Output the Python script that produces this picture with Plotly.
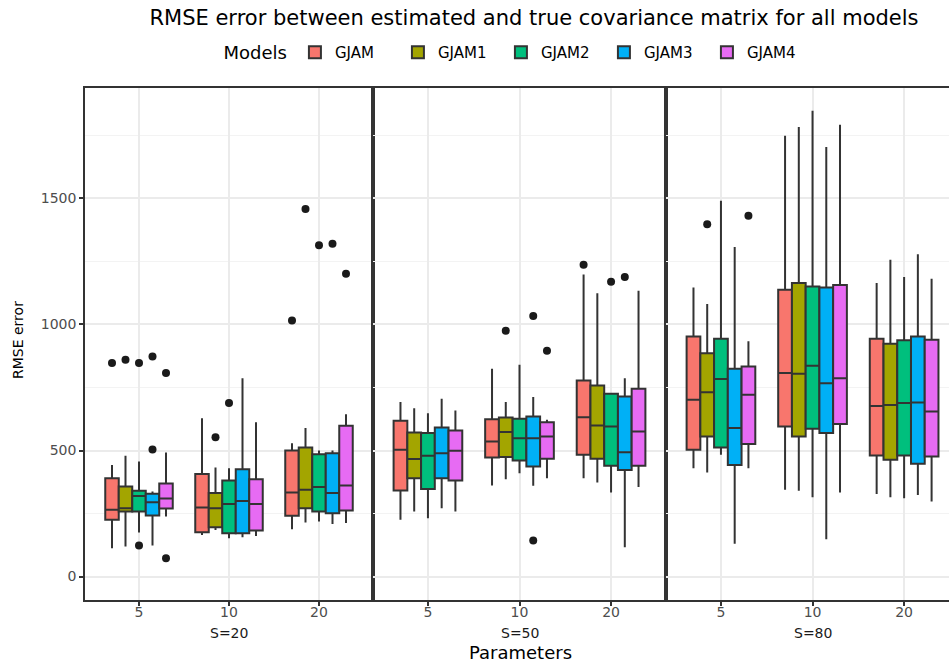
import plotly.graph_objects as go
from plotly.subplots import make_subplots

models = ["GJAM", "GJAM1", "GJAM2", "GJAM3", "GJAM4"]
colors = ["#F8766D", "#A3A500", "#00BF7D", "#00B0F6", "#E76BF3"]
params = ["5", "10", "20"]
panels = ["S=20", "S=50", "S=80"]

# rows = models, columns = params (5, 10, 20)
s20_q1 = [[225, 176, 241], [258, 196, 271], [258, 172, 258], [242, 172, 251], [270, 183, 262]]
s20_med = [[265, 274, 333], [271, 271, 344], [320, 288, 355], [295, 300, 331], [310, 288, 361]]
s20_q3 = [[390, 407, 500], [357, 331, 512], [340, 381, 485], [328, 426, 489], [369, 386, 598]]
s20_lo = [[112, 165, 188], [119, 185, 214], [175, 152, 218], [123, 156, 208], [238, 161, 212]]
s20_hi = [[443, 628, 529], [479, 433, 589], [456, 430, 500], [337, 787, 500], [492, 612, 644]]
s20_out = [[[847], [], [1016]], [[860], [553], [1458]], [[847, 123], [688], [1314]],
           [[873, 504], [], [1320]], [[807, 73], [], [1201]]]

s50_q1 = [[341, 472, 483], [390, 474, 467], [347, 460, 440], [390, 437, 423], [381, 467, 440]]
s50_med = [[503, 536, 632], [466, 573, 599], [479, 549, 595], [489, 549, 493], [499, 556, 575]]
s50_q3 = [[618, 624, 778], [571, 631, 758], [569, 626, 725], [591, 635, 714], [579, 612, 745]]
s50_lo = [[225, 361, 390], [258, 386, 373], [231, 410, 333], [271, 360, 116], [258, 390, 355]]
s50_hi = [[692, 824, 1198], [668, 692, 1124], [648, 840, 725], [705, 712, 787], [659, 622, 1134]]
s50_out = [[[], [], [1237]], [[], [975], []], [[], [], [1169]],
           [[], [1034, 143], [1188]], [[], [896], []]]

s80_q1 = [[503, 595, 480], [556, 556, 463], [512, 586, 480], [443, 569, 447], [526, 605, 476]]
s80_med = [[701, 807, 677], [731, 804, 681], [784, 836, 688], [589, 767, 690], [721, 787, 655]]
s80_q3 = [[952, 1138, 943], [886, 1164, 923], [943, 1151, 937], [824, 1147, 952], [833, 1157, 939]]
s80_lo = [[430, 344, 327], [413, 340, 315], [483, 315, 311], [130, 148, 324], [430, 333, 298]]
s80_hi = [[1147, 1749, 1164], [1081, 1783, 1257], [1491, 1848, 1188], [1307, 1704, 1279], [933, 1792, 1181]]
s80_out = [[[], [], []], [[1398], [], []], [[], [], []], [[], [], []], [[1431], [], []]]

panel_stats = [
    (s20_q1, s20_med, s20_q3, s20_lo, s20_hi, s20_out),
    (s50_q1, s50_med, s50_q3, s50_lo, s50_hi, s50_out),
    (s80_q1, s80_med, s80_q3, s80_lo, s80_hi, s80_out),
]

FONT = "DejaVu Sans"
W, H = 949, 665
ML, MR, MT, MB = 85, 0, 88, 65
PW, PH = W - ML - MR, H - MT - MB

fig = make_subplots(rows=1, cols=3, shared_yaxes=True, horizontal_spacing=0)

for p, (q1, med, q3, lo, hi, outl) in enumerate(panel_stats):
    for m in range(len(models)):
        # boxes without outliers get their median as a (hidden, in-fence) sample point
        pts = [o if o else [med[m][k]] for k, o in enumerate(outl[m])]
        fig.add_trace(
            go.Box(
                x=params, y=pts,
                q1=q1[m], median=med[m], q3=q3[m],
                lowerfence=lo[m], upperfence=hi[m],
                name=models[m], legendgroup=models[m], showlegend=(p == 0),
                offsetgroup=models[m], alignmentgroup=f"panel{p}",
                fillcolor=colors[m],
                line=dict(color="#333333", width=2),
                marker=dict(color="#1a1a1a", size=8),
                boxpoints="outliers", pointpos=0, jitter=0,
                whiskerwidth=0,
            ),
            row=1, col=p + 1,
        )

d1 = 288 / PW
d2 = 581 / PW
domains = [[0, d1], [d1, d2], [d2, 1]]
ranges = [[-0.6, 2.6], [-0.6, 2.6], [-0.6, 2.49]]
for i in range(3):
    ax = "xaxis" if i == 0 else f"xaxis{i+1}"
    fig.layout[ax].update(
        domain=domains[i], type="category", range=ranges[i],
        categoryorder="array", categoryarray=params,
        showgrid=True, gridcolor="#EBEBEB", gridwidth=1.5,
        showline=True, linecolor="#333333", linewidth=1.5, mirror=True,
        ticks="outside", ticklen=4, tickcolor="#333333", tickwidth=1.5,
        ticklabelstandoff=-6,
        tickfont=dict(family=FONT, size=14, color="#4D4D4D"),
        zeroline=False,
    )
    yax = "yaxis" if i == 0 else f"yaxis{i+1}"
    fig.layout[yax].update(
        range=[-93, 1938], tick0=0, dtick=500,
        showgrid=True, gridcolor="#EBEBEB", gridwidth=1.5,
        minor=dict(dtick=250, showgrid=True, gridcolor="#F3F3F3", gridwidth=1),
        showline=True, linecolor="#333333", linewidth=1.5, mirror=(i < 2),
        ticks="outside" if i == 0 else "", ticklen=4, tickcolor="#333333", tickwidth=1.5,
        showticklabels=(i == 0),
        tickfont=dict(family=FONT, size=14, color="#4D4D4D"),
        zeroline=False,
    )

annotations = []
for p in range(3):
    annotations.append(dict(
        text=panels[p], xref=f"x{p+1}", x=1, yref="paper", y=(600 - 633) / PH,
        xanchor="center", yanchor="middle", showarrow=False,
        font=dict(family=FONT, size=14, color="#1A1A1A"),
    ))
annotations.append(dict(
    text="Parameters", xref="paper", x=(520 - ML) / PW, yref="paper", y=(600 - 665) / PH,
    xanchor="center", yanchor="bottom", showarrow=False,
    font=dict(family=FONT, size=18, color="#000000"),
))
annotations.append(dict(
    text="RMSE error", xref="paper", x=(18 - ML) / PW, yref="paper", y=(600 - 340) / PH,
    xanchor="center", yanchor="middle", showarrow=False, textangle=-90,
    font=dict(family=FONT, size=14, color="#000000"),
))

fig.update_layout(
    width=W, height=H,
    margin=dict(l=ML, r=MR, t=MT, b=MB, pad=0),
    paper_bgcolor="white", plot_bgcolor="white",
    boxmode="group", boxgap=0.25, boxgroupgap=0,
    title=dict(
        text="RMSE error between estimated and true covariance matrix for all models",
        xref="paper", x=(534 - ML) / PW, xanchor="center",
        yref="container", y=1 - 18 / H, yanchor="middle",
        font=dict(family=FONT, size=21, color="#000000"),
    ),
    legend=dict(
        orientation="h", xref="paper", x=(516 - ML) / PW, xanchor="center",
        yref="paper", y=(600 - 53) / PH, yanchor="middle",
        title=dict(text="Models", font=dict(family=FONT, size=18, color="#000000")),
        font=dict(family=FONT, size=15, color="#000000"),
        entrywidth=58,
        bgcolor="rgba(0,0,0,0)",
    ),
    annotations=annotations,
    showlegend=True,
)

fig.write_html("out.html", config={"displayModeBar": False},
               post_script="document.body.style.margin='0px';")
